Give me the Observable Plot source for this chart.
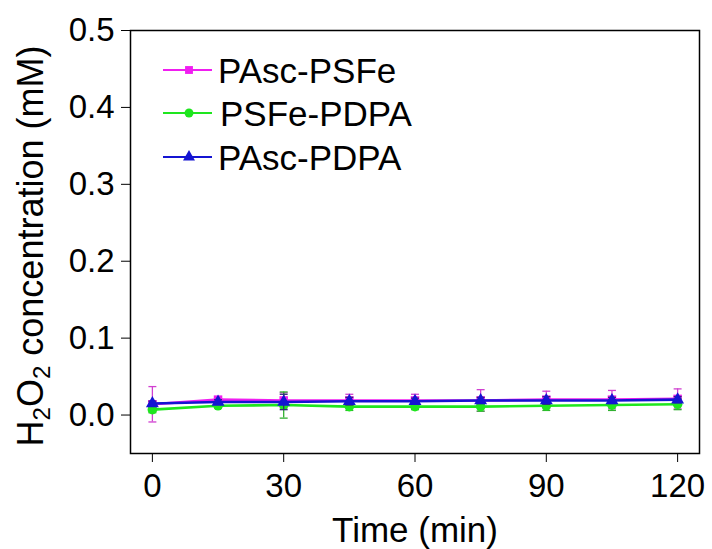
<!DOCTYPE html>
<html>
<head>
<meta charset="utf-8">
<script src="https://cdn.jsdelivr.net/npm/d3@7"></script>
<script src="https://cdn.jsdelivr.net/npm/@observablehq/plot@0.6"></script>
<style>
  html, body { margin: 0; padding: 0; background: #fff; }
  #chart { width: 712px; height: 549px; }
</style>
</head>
<body>
<div id="chart"></div>
<script>
// ---- data ----
const times = [0, 15, 30, 45, 60, 75, 90, 105, 120];
const seriesNames = ["PAsc-PSFe", "PSFe-PDPA", "PAsc-PDPA"];
const pascPsfe    = [0.014, 0.020, 0.019, 0.019, 0.019, 0.019, 0.020, 0.020, 0.021];
const pascPsfeErr = [0.023, 0.004, 0.010, 0.008, 0.008, 0.014, 0.011, 0.012, 0.013];
const psfePdpa    = [0.007, 0.012, 0.013, 0.011, 0.011, 0.011, 0.012, 0.013, 0.014];
const psfePdpaErr = [0.004, 0.003, 0.017, 0.005, 0.004, 0.006, 0.006, 0.007, 0.007];
const pascPdpa    = [0.015, 0.017, 0.017, 0.018, 0.018, 0.019, 0.019, 0.019, 0.020];
const pascPdpaErr = [0.003, 0.003, 0.010, 0.005, 0.004, 0.004, 0.005, 0.004, 0.004];
const xTicks = [0, 30, 60, 90, 120];
const yTicks = [0.0, 0.1, 0.2, 0.3, 0.4, 0.5];
const xLabel = "Time (min)";

// ---- styling ----
const colors = {"PAsc-PSFe": "#f01ef0", "PSFe-PDPA": "#1ee61e", "PAsc-PDPA": "#1414d2"};
const errColors = {"PAsc-PSFe": "#d040d0", "PSFe-PDPA": "#30b030", "PAsc-PDPA": "#303070"};
const symbols = {"PAsc-PSFe": "square", "PSFe-PDPA": "circle", "PAsc-PDPA": "triangle"};
const FONT = "'Liberation Sans', Arial, sans-serif";

const valuesBy = {"PAsc-PSFe": [pascPsfe, pascPsfeErr], "PSFe-PDPA": [psfePdpa, psfePdpaErr], "PAsc-PDPA": [pascPdpa, pascPdpaErr]};
const rows = seriesNames.map(name => times.map((t, i) => ({
  series: name, t, v: valuesBy[name][0][i], e: valuesBy[name][1][i]
})));

const capSymbol = {
  draw(context, size) {
    const w = Math.sqrt(size);
    context.moveTo(-w / 2, 0);
    context.lineTo(w / 2, 0);
  }
};

const marks = [];
rows.forEach(data => {
  const name = data[0].series;
  marks.push(
    Plot.ruleX(data, {x: "t", y1: d => d.v - d.e, y2: d => d.v + d.e, stroke: errColors[name], strokeWidth: 1.3}),
    Plot.dot(data, {x: "t", y: d => d.v + d.e, symbol: capSymbol, r: 4.5, stroke: errColors[name], strokeWidth: 1.3, fill: "none"}),
    Plot.dot(data, {x: "t", y: d => d.v - d.e, symbol: capSymbol, r: 4.5, stroke: errColors[name], strokeWidth: 1.3, fill: "none"}),
    Plot.line(data, {x: "t", y: "v", stroke: colors[name], strokeWidth: 2.6}),
    Plot.dot(data, {x: "t", y: "v", symbol: symbols[name], r: 4.8, fill: colors[name], stroke: "none"})
  );
});
marks.push(
  Plot.frame({stroke: "#000", strokeWidth: 1.5}),
  Plot.text([xLabel], {frameAnchor: "bottom", dy: 77, lineAnchor: "middle", fontSize: 35, fill: "#000", fontFamily: FONT})
);

const chart = Plot.plot({
  width: 712,
  height: 549,
  marginLeft: 130,
  marginRight: 13,
  marginTop: 30,
  marginBottom: 96,
  style: {fontFamily: FONT, fontSize: "33px", color: "#000", background: "#fff", overflow: "visible"},
  x: {domain: [-5, 125], ticks: xTicks, tickSize: 9, tickPadding: 11, label: null, tickFormat: d => String(d)},
  y: {domain: [-0.05, 0.5], ticks: yTicks, tickSize: 9, tickPadding: 7, label: null, tickFormat: d3.format(".1f")},
  marks
});
document.getElementById("chart").appendChild(chart);

// ---- y-axis title with subscripts ----
const svg = d3.select(chart);
const yTitle = svg.append("text")
  .attr("transform", "translate(43,246) rotate(-90)")
  .attr("text-anchor", "middle")
  .style("font-family", FONT)
  .style("font-size", "36px")
  .attr("fill", "#000");
yTitle.append("tspan").text("H");
yTitle.append("tspan").attr("dy", 7).style("font-size", "24px").text("2");
yTitle.append("tspan").attr("dy", -7).text("O");
yTitle.append("tspan").attr("dy", 7).style("font-size", "24px").text("2");
yTitle.append("tspan").attr("dy", -7).text(" concentration (mM)");

// ---- legend (inside the frame, top-left) ----
const legendY = [70, 113, 157];
const leg = svg.append("g").attr("text-anchor", "start");
seriesNames.forEach((name, i) => {
  const y = legendY[i];
  leg.append("line").attr("x1", 163).attr("x2", 212).attr("y1", y).attr("y2", y)
    .attr("stroke", colors[name]).attr("stroke-width", 1.8);
  const sym = d3.symbol().type(name === "PAsc-PSFe" ? d3.symbolSquare : name === "PSFe-PDPA" ? d3.symbolCircle : d3.symbolTriangle).size(62);
  leg.append("path").attr("d", sym()).attr("transform", `translate(189,${y})`).attr("fill", colors[name]);
  leg.append("text").attr("x", i === 1 ? 220 : 218).attr("y", y).attr("dy", "0.36em")
    .attr("text-anchor", "start")
    .style("font-family", FONT).style("font-size", "35px").attr("fill", "#000").text(name);
});
</script>
</body>
</html>
